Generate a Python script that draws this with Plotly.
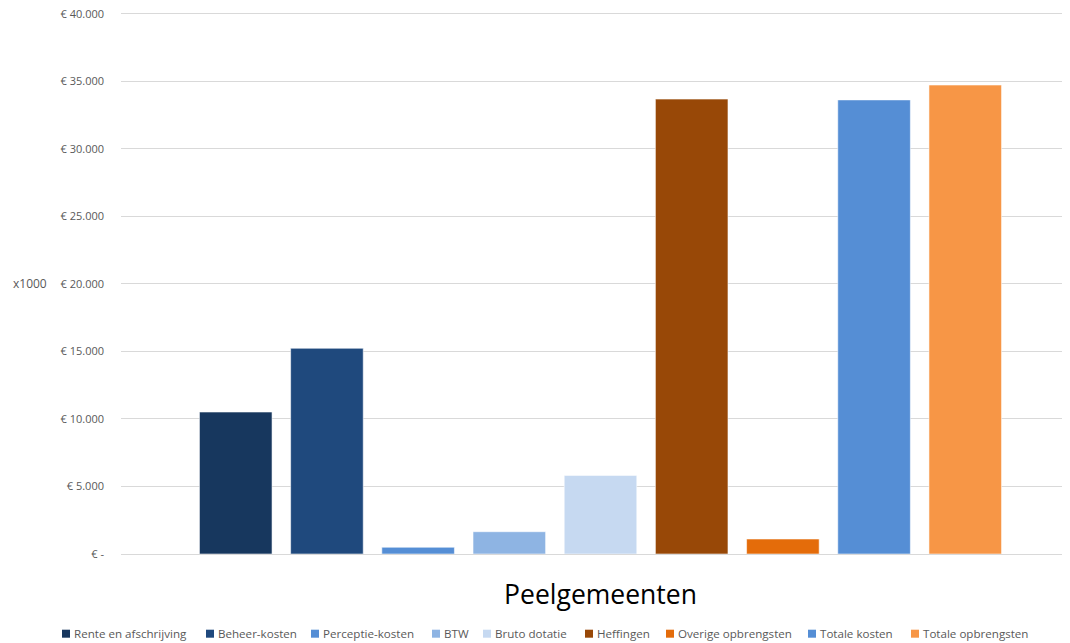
import plotly.graph_objects as go

category = ["Peelgemeenten"]
series_names = ["Rente en afschrijving", "Beheer-kosten", "Perceptie-kosten", "BTW",
                "Bruto dotatie", "Heffingen", "Overige opbrengsten", "Totale kosten",
                "Totale opbrengsten"]
values = [10510, 15230, 500, 1650, 5820, 33680, 1110, 33620, 34720]
colors = ["#17375e", "#1f497d", "#558ed5", "#8eb4e3", "#c6d9f1",
          "#984807", "#e46c0a", "#558ed5", "#f79646"]
tick_vals = [0, 5000, 10000, 15000, 20000, 25000, 30000, 35000, 40000]
tick_text = ["€ -", "€ 5.000", "€ 10.000", "€ 15.000", "€ 20.000",
             "€ 25.000", "€ 30.000", "€ 35.000", "€ 40.000"]

# page geometry (pixels in the browser window); the page body has an 8px margin
OFF = 8
W, H = 1070 - OFF, 643 - OFF
Y_MAX = 40350                      # a bit above the top tick so its gridline and label are drawn
PX_PER_UNIT = (554.3 - 14) / 40000
PLOT_L, PLOT_B = 121, 554.3
PLOT_T = PLOT_B - Y_MAX * PX_PER_UNIT
ML = PLOT_L - OFF
MT = PLOT_T - OFF
MB = H - (PLOT_B - OFF)
plot_w = W - ML
plot_h = H - MT - MB
legend_px = [62, 206, 311, 432, 483, 585, 666, 808, 911]  # legend entry left edges (window px)
legend_y = 634


def px_x(p):
    return (p - OFF - ML) / plot_w


def px_y(p):
    return (H - MB - (p - OFF)) / plot_h


fig = go.Figure()
for name, v, c in zip(series_names, values, colors):
    fig.add_trace(go.Bar(
        x=category, y=[v], name=name,
        marker=dict(color=c, line=dict(color="rgba(255,255,255,0.55)", width=1)),
    ))

shapes = []
annotations = [dict(text="x1000", xref="paper", yref="paper", x=px_x(11), y=px_y(284),
                    xanchor="left", yanchor="middle", showarrow=False,
                    font=dict(size=12, color="#595959"))]
for name, c, lx in zip(series_names, colors, legend_px):
    shapes.append(dict(type="rect", xref="paper", yref="paper",
                       x0=px_x(lx), x1=px_x(lx + 8), y0=px_y(legend_y + 4), y1=px_y(legend_y - 4),
                       fillcolor=c, line=dict(width=0)))
    annotations.append(dict(text=name, xref="paper", yref="paper",
                            x=px_x(lx + 10), y=px_y(legend_y), xanchor="left", yanchor="middle",
                            showarrow=False, font=dict(size=11.6, color="#595959")))

# center the single category group at window x ~600.5
cat_px = plot_w
left = -(600.5 - PLOT_L) / cat_px
fig.update_layout(
    width=W, height=H,
    barmode="group", bargap=1 - 820.7 / cat_px, bargroupgap=0.204,
    paper_bgcolor="white", plot_bgcolor="white",
    margin=dict(l=ML, r=0, t=MT, b=MB, pad=0, autoexpand=False),
    font=dict(family="Open Sans, sans-serif", color="#595959", size=11),
    showlegend=False,
    xaxis=dict(range=[left, left + 1], showgrid=False, zeroline=False,
               showline=False, ticks="", automargin=False, ticklabelstandoff=22,
               tickfont=dict(size=26.5, color="#000000", family="Open Sans, sans-serif")),
    yaxis=dict(range=[0, Y_MAX], tickvals=tick_vals, ticktext=tick_text,
               showgrid=True, gridcolor="#d9d9d9", gridwidth=1,
               zeroline=True, zerolinecolor="#d9d9d9", zerolinewidth=1.3,
               showline=False, ticks="", ticklabelstandoff=16, automargin=False,
               ticklabeloverflow="allow",
               tickfont=dict(size=11, color="#595959")),
    shapes=shapes,
    annotations=annotations,
)

fig.write_html("out.html")
